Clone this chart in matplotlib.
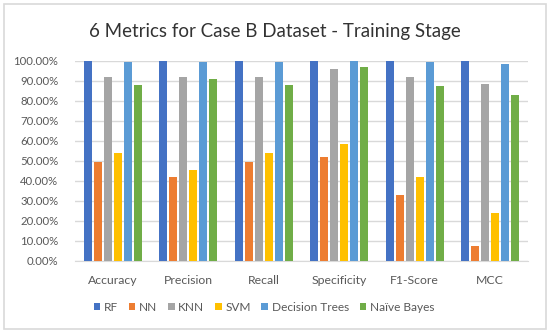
import matplotlib
matplotlib.use("Agg")
import matplotlib.pyplot as plt
from matplotlib.patches import Rectangle
from matplotlib.ticker import FuncFormatter
import numpy as np

plt.rcParams["font.family"] = ["Lato", "DejaVu Sans"]

metrics = ["Accuracy", "Precision", "Recall", "Specificity", "F1-Score", "MCC"]
models = ["RF", "NN", "KNN", "SVM", "Decision Trees", "Naïve Bayes"]
colors = ["#4472C4", "#ED7D31", "#A5A5A5", "#FFC000", "#5B9BD5", "#70AD47"]

rf = [100.0, 100.0, 100.0, 100.0, 100.0, 100.0]
nn = [49.2, 42.0, 49.2, 51.7, 33.0, 7.3]
knn = [92.0, 92.0, 92.0, 95.8, 92.0, 88.2]
svm = [53.8, 45.2, 53.8, 58.5, 42.0, 23.7]
dt = [99.5, 99.5, 99.5, 99.8, 99.3, 98.4]
nb = [87.8, 90.7, 87.8, 96.8, 87.3, 82.7]
series = [rf, nn, knn, svm, dt, nb]

fig = plt.figure(figsize=(5.5, 3.33), dpi=100)
fig.patches.append(Rectangle((0.008, 0.012), 0.984, 0.976, transform=fig.transFigure,
                             fill=False, edgecolor="#D9D9D9", linewidth=1.2))
ax = fig.add_axes([0.1364, 0.217, 0.8236, 0.601])

x = np.arange(len(metrics))
step = 0.1325
width = 0.102
for i, (vals, name, c) in enumerate(zip(series, models, colors)):
    ax.bar(x + (i - 2.5) * step, vals, width, color=c, label=name, zorder=3)

ax.set_ylim(0, 100)
ax.set_xlim(-0.5, len(metrics) - 0.5)
ax.set_yticks(np.arange(0, 101, 10))
ax.yaxis.set_major_formatter(FuncFormatter(lambda v, p: f"{v:.2f}%"))
ax.set_xticks(x)
ax.set_xticklabels(metrics)
ax.grid(axis="y", color="#D9D9D9", linewidth=1, zorder=0)
for s in ["left", "right", "top"]:
    ax.spines[s].set_visible(False)
ax.spines["bottom"].set_color("#D9D9D9")
ax.tick_params(length=0, labelcolor="#595959")
ax.tick_params(axis="y", labelsize=8.2, pad=12)
ax.tick_params(axis="x", labelsize=8.8, pad=10)

fig.suptitle("6 Metrics for Case B Dataset - Training Stage", x=0.5, y=0.93,
             fontsize=13.5, color="#333333")
fig.legend(loc="center", bbox_to_anchor=(0.48, 0.078), ncol=6, frameon=False,
           fontsize=8.6, handlelength=0.55, handleheight=0.55, handletextpad=0.3,
           columnspacing=0.9, labelcolor="#595959")

fig.savefig("out.png", dpi=100)
